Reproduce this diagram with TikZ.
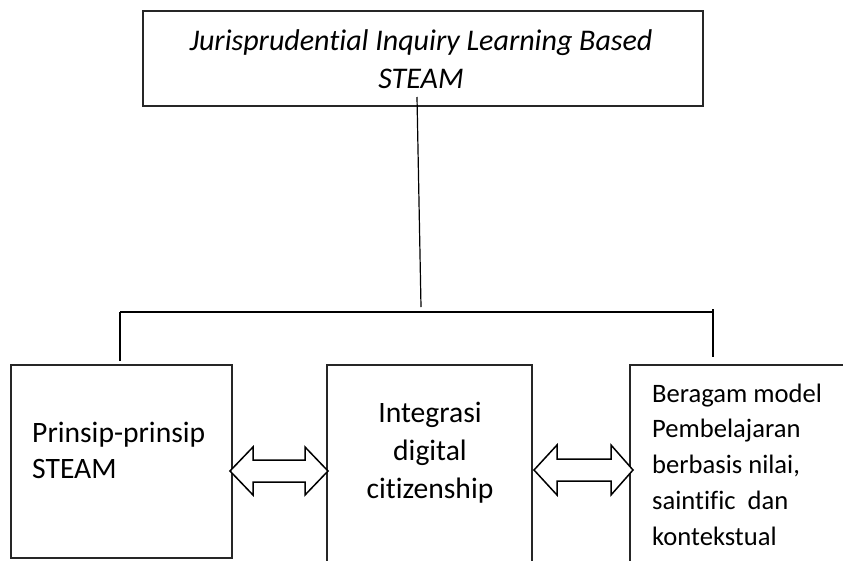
\documentclass[tikz,border=0pt]{standalone}
\usepackage{fontspec}
\setmainfont{Carlito}[Ligatures={NoCommon}]
\usetikzlibrary{calc}
\begin{document}
\begin{tikzpicture}[x=1pt,y=-1pt,
  box/.style={draw=black!85, line width=1.2pt, rectangle, inner sep=0pt},
  link/.style={draw=black, line width=1.2pt},
  blockarrow/.style={draw=black, line width=1.5pt, fill=white, line join=miter},
  txt/.style={inner sep=0pt, anchor=base}]
\useasboundingbox (0,0) rectangle (843,560);
\clip (0,0) rectangle (843,560);

% boxes (the lower ones run past the page edge)
\node[box, minimum width=560pt, minimum height=95pt] (top) at (423,58.5) {};
\node[box, minimum width=221pt, minimum height=193pt] (pL) at (121.5,461.5) {};
\node[box, minimum width=205pt, minimum height=235pt] (pM) at (429.5,482.5) {};
\node[box, minimum width=270pt, minimum height=235pt] (pR) at (765,482.5) {};

% labels
\node[txt] (tTop) at (421,50) {\fontsize{30}{38}\selectfont\itshape
  \begin{tabular}[t]{@{}c@{}}Jurisprudential Inquiry Learning Based\\STEAM\end{tabular}};
\node[txt, anchor=base west] (tL) at (32,442) {\fontsize{29.6}{36.6}\selectfont
  \begin{tabular}[t]{@{}l@{}}Prinsip-prinsip\\STEAM\end{tabular}};
\node[txt] (tM) at (430,422) {\fontsize{29.6}{38.3}\selectfont
  \begin{tabular}[t]{@{}c@{}}Integrasi\\digital\\citizenship\end{tabular}};
\node[txt, anchor=base west] (tR) at (652,402) {\fontsize{26.6}{35.8}\selectfont
  \begin{tabular}[t]{@{}l@{}}Beragam model\\Pembelajaran\\berbasis nilai,\\saintific~ dan\\kontekstual\end{tabular}};

% tree connectors
\coordinate (stem) at (417,97);
\coordinate (join) at (421,307);
\coordinate (barL) at (120,312);
\coordinate (barR) at (713,312);
\coordinate (dropL) at (120,361);
\coordinate (tickR) at (713,309);
\coordinate (dropR) at (713,357);
\draw[link] (stem) -- (join);
\draw[link] (barL) -- (barR);
\draw[link] (barL) -- (dropL);
\draw[link] (tickR) -- (dropR);

% double block arrows between the lower boxes
\coordinate (a1) at (230,471);
\coordinate (a2) at (328,471);
\coordinate (b1) at (534,470);
\coordinate (b2) at (633,470);
\draw[blockarrow] (a1) -- ++(23,-24) -- ++(0,13) -- ($(a2)+(-23,-11)$) -- ++(0,-13)
  -- (a2) -- ++(-23,24) -- ++(0,-13) -- ($(a1)+(23,11)$) -- ++(0,13) -- cycle;
\draw[blockarrow] (b1) -- ++(23,-25) -- ++(0,14) -- ($(b2)+(-22,-11)$) -- ++(0,-14)
  -- (b2) -- ++(-22,25) -- ++(0,-14) -- ($(b1)+(23,11)$) -- ++(0,14) -- cycle;
\end{tikzpicture}
\end{document}
